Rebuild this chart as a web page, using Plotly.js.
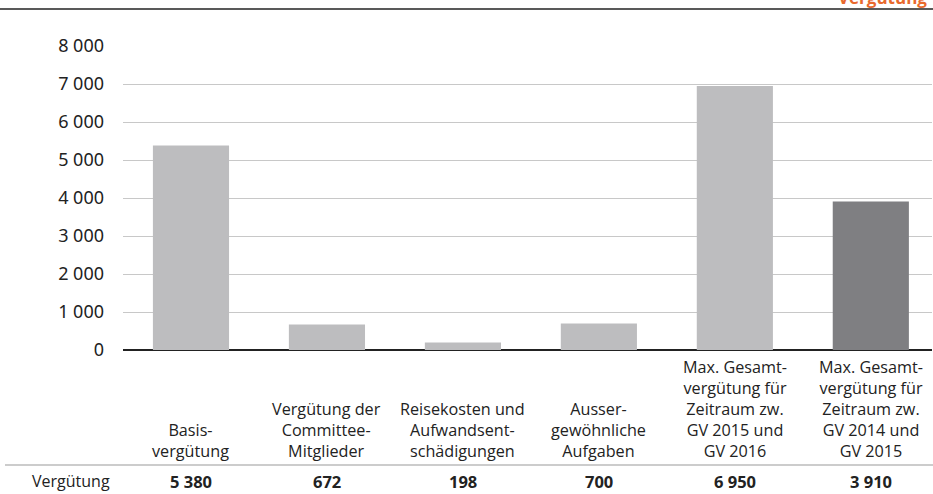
<!DOCTYPE html>
<html><head><meta charset="utf-8">
<script src="https://cdn.plot.ly/plotly-3.0.1.min.js"></script>
<style>html,body{margin:0;padding:0;background:#fff}#chart{width:933px;height:494px}</style>
</head><body><div id="chart"></div>
<script>
const categories = [
  "Basis-<br>vergütung",
  "Vergütung der<br>Committee-<br>Mitglieder",
  "Reisekosten und<br>Aufwandsent-<br>schädigungen",
  "Ausser-<br>gewöhnliche<br>Aufgaben",
  "Max. Gesamt-<br>vergütung für<br>Zeitraum zw.<br>GV 2015 und<br>GV 2016",
  "Max. Gesamt-<br>vergütung für<br>Zeitraum zw.<br>GV 2014 und<br>GV 2015"
];
const values = [5380, 672, 198, 700, 6950, 3910];
const barColors = ["#bdbdbf","#bdbdbf","#bdbdbf","#bdbdbf","#bdbdbf","#7f7f82"];
const yTicks = [0,1000,2000,3000,4000,5000,6000,7000,8000];
const rowLabel = "Vergütung";
const cornerTitle = "Vergütung";

const fmt = v => String(v).replace(/\B(?=(\d{3})+(?!\d))/g, " ");
const idx = categories.map((c,i)=>i);

const L = 123, T = 46, W = 933, H = 494, PW = 809, PH = 304;
const px = x => (x - L)/PW;
const py = y => (T + PH - y)/PH;
const FONT = 'Open Sans, sans-serif';

const annotations = [];
idx.forEach(i => {
  annotations.push({x:i, xref:'x', y:py(463), yref:'paper', yanchor:'bottom', xanchor:'center',
    text:categories[i], showarrow:false, align:'center', borderpad:0,
    font:{family:FONT, size:16.2, color:'#222'}});
  annotations.push({x:i, xref:'x', y:py(481), yref:'paper', yanchor:'middle', xanchor:'center',
    text:'<b>'+fmt(values[i])+'</b>', showarrow:false,
    font:{family:FONT, size:16.5, color:'#222'}});
});
annotations.push({x:px(71), xref:'paper', y:py(481), yref:'paper', yanchor:'middle', xanchor:'center',
  text:rowLabel, showarrow:false, font:{family:FONT, size:16, color:'#222'}});
annotations.push({x:px(929), xref:'paper', y:py(-3), yref:'paper', yanchor:'middle', xanchor:'right',
  text:'<b>'+cornerTitle+'</b>', showarrow:false, font:{family:FONT, size:17, color:'#e8692d'}});

const data = [{
  type:'bar', x:idx, y:values, marker:{color:barColors}, hoverinfo:'none'
}];

const layout = {
  width:W, height:H, margin:{l:L, r:W-L-PW, t:T, b:H-T-PH},
  paper_bgcolor:'#fff', plot_bgcolor:'#fff', showlegend:false, bargap:0.44,
  xaxis:{range:[-0.5,5.45], showticklabels:false, showgrid:false, zeroline:false, ticks:'', fixedrange:true},
  yaxis:{range:[0,8000], tickvals:yTicks, ticktext:yTicks.map(fmt), showgrid:true, gridcolor:'#c8c8c8', gridwidth:1,
    zeroline:true, zerolinecolor:'#222', zerolinewidth:1.3, ticks:'', ticklabelstandoff:18,
    tickfont:{family:'Noto Sans, sans-serif', size:18, color:'#222'}},
  shapes:[
    {type:'line', xref:'paper', yref:'paper', x0:px(0), x1:px(933), y0:py(9), y1:py(9), line:{color:'#222', width:1.3}},
    {type:'line', xref:'paper', yref:'paper', x0:px(5), x1:px(933), y0:py(465), y1:py(465), line:{color:'#999', width:1}}
  ],
  annotations:annotations
};
Plotly.newPlot('chart', data, layout, {displayModeBar:false, staticPlot:true});
</script></body></html>
